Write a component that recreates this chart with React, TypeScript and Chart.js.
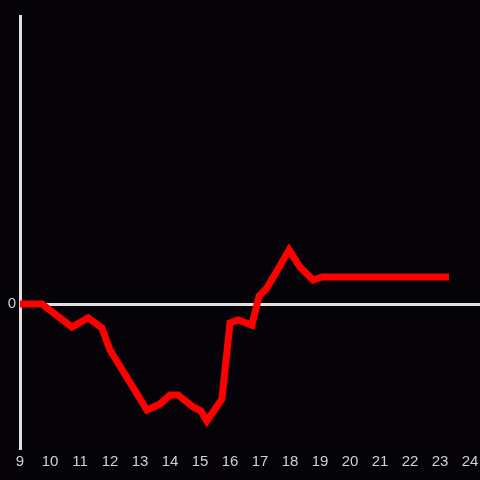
import React, { useEffect, useRef } from "react";
import { Chart, registerables } from "chart.js";

Chart.register(...registerables);

const hours = [9, 9.73, 10.73, 11.27, 11.73, 12.0, 13.23, 13.67, 14.0, 14.27, 14.77, 15.03, 15.23, 15.73, 16.0, 16.27, 16.73, 16.97, 17.23, 17.97, 18.33, 18.77, 19.07, 23.3];
const values = [0, 0, -0.16, -0.097, -0.167, -0.32, -0.736, -0.694, -0.632, -0.632, -0.715, -0.743, -0.812, -0.66, -0.132, -0.111, -0.146, 0.056, 0.111, 0.375, 0.257, 0.167, 0.188, 0.188];
const xTicks = [9, 10, 11, 12, 13, 14, 15, 16, 17, 18, 19, 20, 21, 22, 23, 24];
const yTicks = [0];

export default function App() {
  const ref = useRef<HTMLCanvasElement>(null);
  useEffect(() => {
    if (!ref.current) return;
    const bg = {
      id: "bg",
      beforeDraw(c: any) {
        const ctx = c.ctx;
        ctx.save();
        ctx.fillStyle = "#050307";
        ctx.fillRect(0, 0, c.width, c.height);
        ctx.restore();
      },
    };
    const chart = new Chart(ref.current, {
      type: "line",
      data: {
        datasets: [
          {
            data: hours.map((h, i) => ({ x: h, y: values[i] })),
            borderColor: "#ff0000",
            borderWidth: 7,
            pointRadius: 0,
            tension: 0,
            fill: false,
          },
        ],
      },
      options: {
        animation: false,
        responsive: false,
        maintainAspectRatio: false,
        layout: { padding: { top: 16, right: 0, left: 0, bottom: 0 } },
        plugins: { legend: { display: false }, tooltip: { enabled: false } },
        scales: {
          x: {
            type: "linear",
            min: 9,
            max: 24.333,
            afterBuildTicks: (s: any) => {
              s.ticks = xTicks.map((v) => ({ value: v }));
            },
            afterFit: (s: any) => {
              s.height = 32;
              s.paddingLeft = 0;
              s.paddingRight = 0;
            },
            grid: { display: false, drawTicks: false },
            border: { display: false },
            ticks: {
              color: "#d0d0d0",
              padding: 5,
              maxRotation: 0,
              autoSkip: false,
              font: { family: "Liberation Sans, Arial, sans-serif", size: 15 },
            },
          },
          y: {
            min: -1,
            max: 2,
            afterBuildTicks: (s: any) => {
              s.ticks = yTicks.map((v) => ({ value: v }));
            },
            afterFit: (s: any) => {
              s.width = 20;
              s.paddingTop = 0;
              s.paddingBottom = 0;
            },
            grid: { color: "#e0e0e0", lineWidth: 3, drawTicks: false },
            border: { display: true, color: "#e0e0e0", width: 3 },
            ticks: {
              color: "#d0d0d0",
              padding: 4,
              font: { family: "Liberation Sans, Arial, sans-serif", size: 15 },
            },
          },
        },
      },
      plugins: [bg],
    } as any);
    return () => chart.destroy();
  }, []);
  return (
    <div style={{ position: "absolute", left: 0, top: 0, width: 480, height: 480, background: "#050307" }}>
      <canvas ref={ref} width={480} height={480} style={{ width: 480, height: 480, display: "block" }} />
    </div>
  );
}
